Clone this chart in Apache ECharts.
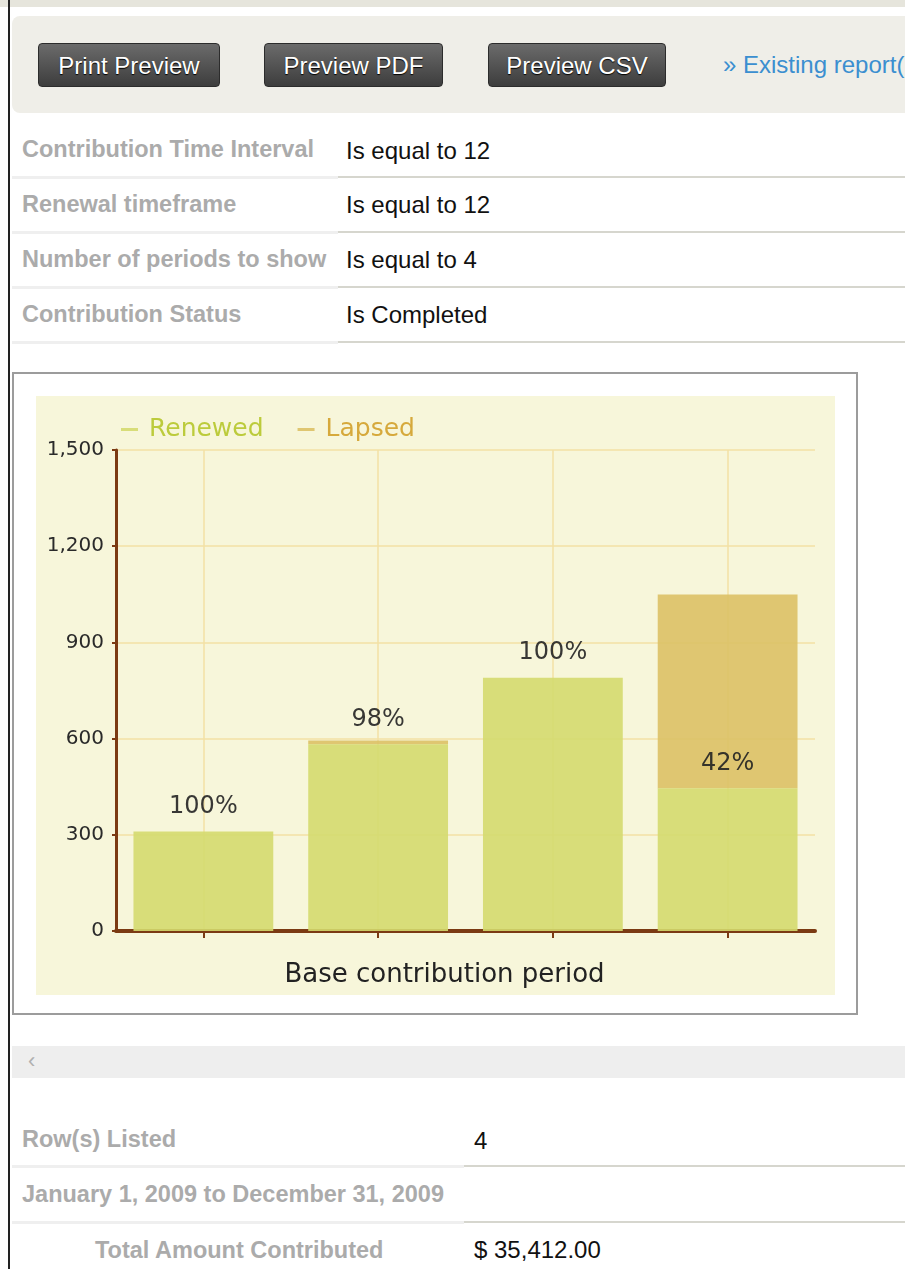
<!DOCTYPE html>
<html>
<head>
<meta charset="utf-8">
<script src="https://cdn.jsdelivr.net/npm/echarts@6/dist/echarts.min.js"></script>
<style>
  body { margin: 0; width: 905px; height: 1269px; overflow: hidden; background: #fff;
         font-family: "Liberation Sans", Arial, sans-serif; position: relative; }
  .abs { position: absolute; }
  .topband { left: 0; top: 0; width: 905px; height: 7px; background: #e6e5dc; }
  .leftline { left: 8px; top: 0; width: 2px; height: 1269px; background: #222; }
  .toolbar { left: 12px; top: 16px; width: 910px; height: 97px; background: #efeee8; border-radius: 8px; }
  .btn { top: 43px; height: 44px; line-height: 44px; text-align: center; color: #fff; font-size: 24px;
         background: linear-gradient(#6b6b6b, #3d3d3d); border: 1px solid #2c2c2c; border-radius: 4px;
         box-sizing: border-box; text-shadow: 0 1px 1px #000; white-space: nowrap; }
  .link { left: 723px; top: 51px; color: #3b8fd0; font-size: 24px; white-space: nowrap; }
  .lbl { left: 22px; color: #ababab; font-weight: bold; font-size: 23.5px; white-space: nowrap; }
  .val { color: #111; font-size: 24px; white-space: nowrap; }
  .ln1 { left: 12px; height: 3px; background: #efefef; }
  .ln2 { height: 2px; background: #d6d6ce; }
  .chartbox { left: 12px; top: 372px; width: 846px; height: 643px; border: 2px solid #9c9c9c; box-sizing: border-box; }
  #chart { left: 36px; top: 396px; width: 799px; height: 599px; }
  .scroll { left: 12px; top: 1046px; width: 893px; height: 32px; background: #eeeeee; }
</style>
</head>
<body>
<div class="abs topband"></div>
<div class="abs leftline"></div>
<div class="abs toolbar"></div>
<div class="abs btn" style="left:38px;width:182px;">Print Preview</div>
<div class="abs btn" style="left:264px;width:179px;">Preview PDF</div>
<div class="abs btn" style="left:488px;width:178px;">Preview CSV</div>
<div class="abs link">» Existing report(</div>

<div class="abs lbl" style="top:136px;">Contribution Time Interval</div>
<div class="abs val" style="left:346px;top:137px;">Is equal to 12</div>
<div class="abs ln1" style="top:176px;width:326px;"></div>
<div class="abs ln2" style="left:338px;top:176px;width:567px;"></div>

<div class="abs lbl" style="top:191px;">Renewal timeframe</div>
<div class="abs val" style="left:346px;top:191px;">Is equal to 12</div>
<div class="abs ln1" style="top:231px;width:326px;"></div>
<div class="abs ln2" style="left:338px;top:231px;width:567px;"></div>

<div class="abs lbl" style="top:246px;">Number of periods to show</div>
<div class="abs val" style="left:346px;top:246px;">Is equal to 4</div>
<div class="abs ln1" style="top:286px;width:326px;"></div>
<div class="abs ln2" style="left:338px;top:286px;width:567px;"></div>

<div class="abs lbl" style="top:301px;">Contribution Status</div>
<div class="abs val" style="left:346px;top:301px;">Is Completed</div>
<div class="abs ln1" style="top:341px;width:326px;"></div>
<div class="abs ln2" style="left:338px;top:341px;width:567px;"></div>

<div class="abs chartbox"></div>
<div class="abs" id="chart"></div>

<div class="abs scroll"></div>
<div class="abs" style="left:28px;top:1048px;color:#b0b0b0;font-size:22px;">‹</div>

<div class="abs lbl" style="top:1126px;">Row(s) Listed</div>
<div class="abs val" style="left:474px;top:1127px;">4</div>
<div class="abs ln1" style="top:1165px;width:452px;"></div>
<div class="abs ln2" style="left:464px;top:1165px;width:441px;"></div>

<div class="abs lbl" style="top:1181px;">January 1, 2009 to December 31, 2009</div>
<div class="abs ln1" style="top:1221px;width:452px;"></div>
<div class="abs ln2" style="left:464px;top:1221px;width:441px;"></div>

<div class="abs lbl" style="left:95px;top:1237px;">Total Amount Contributed</div>
<div class="abs val" style="left:474px;top:1236px;">$ 35,412.00</div>

<script>
// chart data
const periods = ['Period 1', 'Period 2', 'Period 3', 'Period 4']
const renewed = [310, 582, 790, 445]
const lapsed = [0, 12, 0, 604]
const yTicks = [0, 300, 600, 900, 1200, 1500]

const brown = '#7b3a12'

const chart = echarts.init(document.getElementById('chart'))

const option = {
  animation: false,
  backgroundColor: '#f7f6da',
  textStyle: { fontFamily: 'DejaVu Sans' },
  legend: {
    left: 80,
    top: 16,
    icon: 'rect',
    itemWidth: 17,
    itemHeight: 3,
    itemGap: 34,
    textStyle: { fontSize: 25, padding: [0, 0, 0, 6] },
    data: [
      { name: 'Renewed', textStyle: { color: '#bccb3c' } },
      { name: 'Lapsed', textStyle: { color: '#d6a93c' } }
    ]
  },
  grid: { left: 80, right: 20, top: 54, bottom: 64, containLabel: false, outerBoundsMode: 'none' },
  xAxis: {
    type: 'category',
    data: periods,
    name: 'Base contribution period',
    nameLocation: 'middle',
    nameGap: 31,
    nameTextStyle: { fontSize: 26, color: '#222', padding: [0, 42, 0, 0] },
    axisLine: { lineStyle: { color: brown, width: 4 } },
    axisTick: { show: true, alignWithLabel: true, interval: 0, length: 7, lineStyle: { color: brown, width: 2 } },
    axisLabel: { show: true, interval: 0, formatter: () => '' },
    splitLine: { show: true, alignWithLabel: true, lineStyle: { color: '#f3e0a4', width: 1.5 } }
  },
  yAxis: {
    type: 'value',
    min: yTicks[0],
    max: yTicks[yTicks.length - 1],
    interval: yTicks[1] - yTicks[0],
    axisLine: { show: true, lineStyle: { color: brown, width: 3 } },
    axisTick: { show: true, length: 4, lineStyle: { color: brown, width: 2 } },
    axisLabel: {
      margin: 12,
      fontSize: 20,
      color: '#2a2a2a',
      formatter: v => v.toLocaleString('en-US')
    },
    splitLine: { lineStyle: { color: '#f3e0a4', width: 1.5 } }
  },
  series: [
    {
      name: 'Renewed',
      type: 'bar',
      stack: 'total',
      z: 3,
      barCategoryGap: '20%',
      data: renewed,
      itemStyle: { color: '#d4da6e', opacity: 0.9 },
      label: {
        show: true,
        position: 'top',
        distance: 13,
        fontSize: 24,
        color: '#222',
        formatter: p => Math.round(renewed[p.dataIndex] / (renewed[p.dataIndex] + lapsed[p.dataIndex]) * 100) + '%'
      }
    },
    {
      name: 'Lapsed',
      type: 'bar',
      stack: 'total',
      z: 2,
      data: lapsed,
      itemStyle: { color: '#dcc165', opacity: 0.9 }
    }
  ]
}

chart.setOption(option)
</script>
</body>
</html>
